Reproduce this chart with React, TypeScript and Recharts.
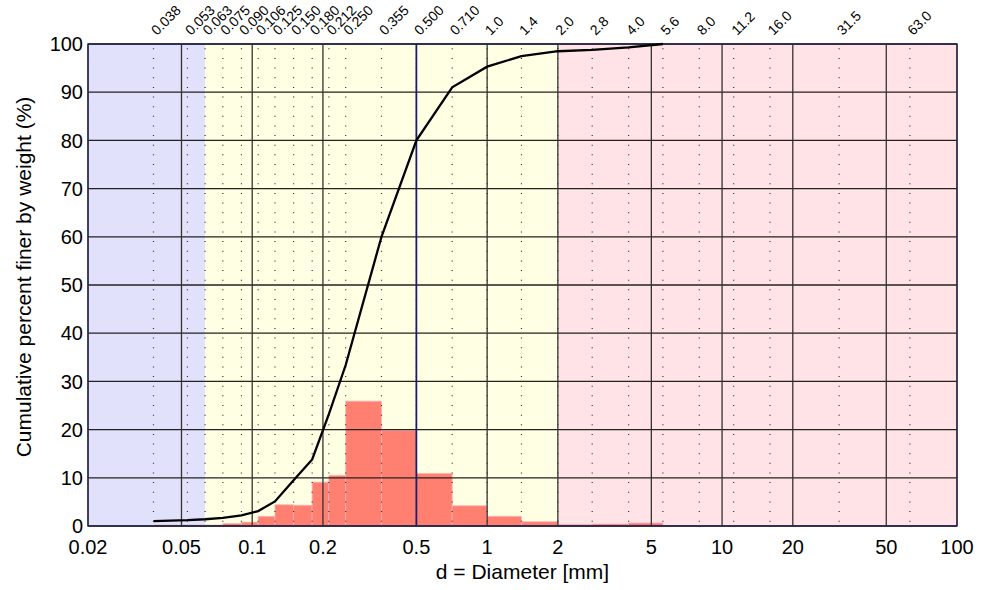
import {
  ComposedChart,
  Line,
  XAxis,
  YAxis,
  ReferenceArea,
  ReferenceLine,
} from "recharts";

const FONT = "'Liberation Sans', Arial, Helvetica, sans-serif";

// sieve openings (mm) and their printed labels
const sieveSizes = [
  0.038, 0.053, 0.063, 0.075, 0.09, 0.106, 0.125, 0.15, 0.18, 0.212, 0.25,
  0.355, 0.5, 0.71, 1.0, 1.4, 2.0, 2.8, 4.0, 5.6, 8.0, 11.2, 16.0, 31.5, 63.0,
];
const sieveLabels = [
  "0.038", "0.053", "0.063", "0.075", "0.090", "0.106", "0.125", "0.150",
  "0.180", "0.212", "0.250", "0.355", "0.500", "0.710", "1.0", "1.4", "2.0",
  "2.8", "4.0", "5.6", "8.0", "11.2", "16.0", "31.5", "63.0",
];

// cumulative % finer at each sieve (up to 5.6 mm)
const percentFiner = [
  1.0, 1.2, 1.4, 1.7, 2.2, 3.1, 5.1, 9.5, 13.8, 23.2, 33.4, 60.0, 80.0, 91.0,
  95.3, 97.5, 98.5, 98.8, 99.3, 100,
];

// % retained between consecutive sieves
const percentRetained = [
  0.2, 0.2, 0.2, 0.5, 0.8, 2.0, 4.4, 4.3, 9.1, 10.5, 25.9, 19.8, 10.9, 4.2,
  2.0, 0.9, 0.3, 0.4, 0.6,
];

const xTicks = [0.02, 0.05, 0.1, 0.2, 0.5, 1, 2, 5, 10, 20, 50, 100];
const yTicks = [0, 10, 20, 30, 40, 50, 60, 70, 80, 90, 100];

// soil classes: silt/clay, sand, gravel
const bands = [
  { from: 0.02, to: 0.063, color: "#e1e1fb" },
  { from: 0.063, to: 2, color: "#ffffe3" },
  { from: 2, to: 100, color: "#ffe3e6" },
];

const curveData = percentFiner.map((pct, i) => ({ d: sieveSizes[i], pct }));

const SieveLabel = ({ viewBox, text }: any) => {
  const x = viewBox.x + 3.5;
  const y = viewBox.y - 8;
  return (
    <text
      x={x}
      y={y}
      transform={`rotate(-45 ${x} ${y})`}
      fontSize={14}
      fontFamily={FONT}
      fill="#000"
    >
      {text}
    </text>
  );
};

const YTitle = ({ viewBox }: any) => {
  const x = 23;
  const y = viewBox.y + viewBox.height / 2 - 8;
  return (
    <text
      x={x}
      y={y}
      transform={`rotate(-90 ${x} ${y})`}
      textAnchor="middle"
      dominantBaseline="central"
      fontSize={21}
      fontFamily={FONT}
      fill="#000"
    >
      Cumulative percent finer by weight (%)
    </text>
  );
};

const XTitle = ({ viewBox }: any) => (
  <text
    x={viewBox.x + viewBox.width / 2}
    y={579}
    textAnchor="middle"
    fontSize={21}
    fontFamily={FONT}
    fill="#000"
  >
    d = Diameter [mm]
  </text>
);

export default function App() {
  return (
    <div style={{ position: "absolute", left: 0, top: 0, background: "#fff" }}>
      <ComposedChart
        width={981}
        height={590}
        data={curveData}
        margin={{ top: 44, right: 24, bottom: 0, left: 0 }}
      >
        <XAxis
          dataKey="d"
          type="number"
          scale="log"
          domain={[0.02, 100]}
          ticks={xTicks}
          allowDataOverflow
          axisLine={false}
          tickLine={false}
          tickSize={0}
          tickMargin={14}
          height={64}
          tick={{ fontSize: 20, fill: "#000", fontFamily: FONT }}
          label={<XTitle />}
        />
        <YAxis
          type="number"
          domain={[0, 100]}
          ticks={yTicks}
          axisLine={false}
          tickLine={false}
          tickSize={0}
          tickMargin={5}
          width={88}
          tick={{ fontSize: 20, fill: "#000", fontFamily: FONT }}
          label={<YTitle />}
        />

        {bands.map((b) => (
          <ReferenceArea
            key={`band-${b.from}`}
            x1={b.from}
            x2={b.to}
            y1={0}
            y2={100}
            fill={b.color}
            fillOpacity={1}
            stroke="none"
            zIndex={1}
          />
        ))}

        {percentRetained.map((v, i) => (
          <ReferenceArea
            key={`bar-${i}`}
            x1={sieveSizes[i]}
            x2={sieveSizes[i + 1]}
            y1={0}
            y2={v}
            fill="#ff0000"
            fillOpacity={0.5}
            stroke="#ffb3b3"
            strokeWidth={0.8}
            zIndex={2}
          />
        ))}

        {yTicks.map((t) => (
          <ReferenceLine
            key={`h-${t}`}
            y={t}
            stroke="#222"
            strokeWidth={1.3}
            zIndex={3}
          />
        ))}
        {xTicks.map((t) => (
          <ReferenceLine
            key={`v-${t}`}
            x={t}
            stroke="#333"
            strokeWidth={1.3}
            zIndex={3}
          />
        ))}

        {sieveSizes.map((s, i) => (
          <ReferenceLine
            key={`s-${s}`}
            x={s}
            stroke="#333"
            strokeWidth={1.2}
            strokeDasharray="0 4.32 1 4.32"
            zIndex={3}
            label={<SieveLabel text={sieveLabels[i]} />}
          />
        ))}

        <ReferenceLine x={0.5} stroke="#1c1c6e" strokeWidth={1.6} zIndex={4} />
        <ReferenceArea
          x1={0.02}
          x2={100}
          y1={0}
          y2={100}
          fill="none"
          fillOpacity={0}
          stroke="#25254f"
          strokeWidth={1.3}
          zIndex={4}
        />

        <Line
          dataKey="pct"
          type="linear"
          stroke="#000"
          strokeWidth={2.3}
          dot={false}
          isAnimationActive={false}
          zIndex={5}
        />
      </ComposedChart>
    </div>
  );
}
